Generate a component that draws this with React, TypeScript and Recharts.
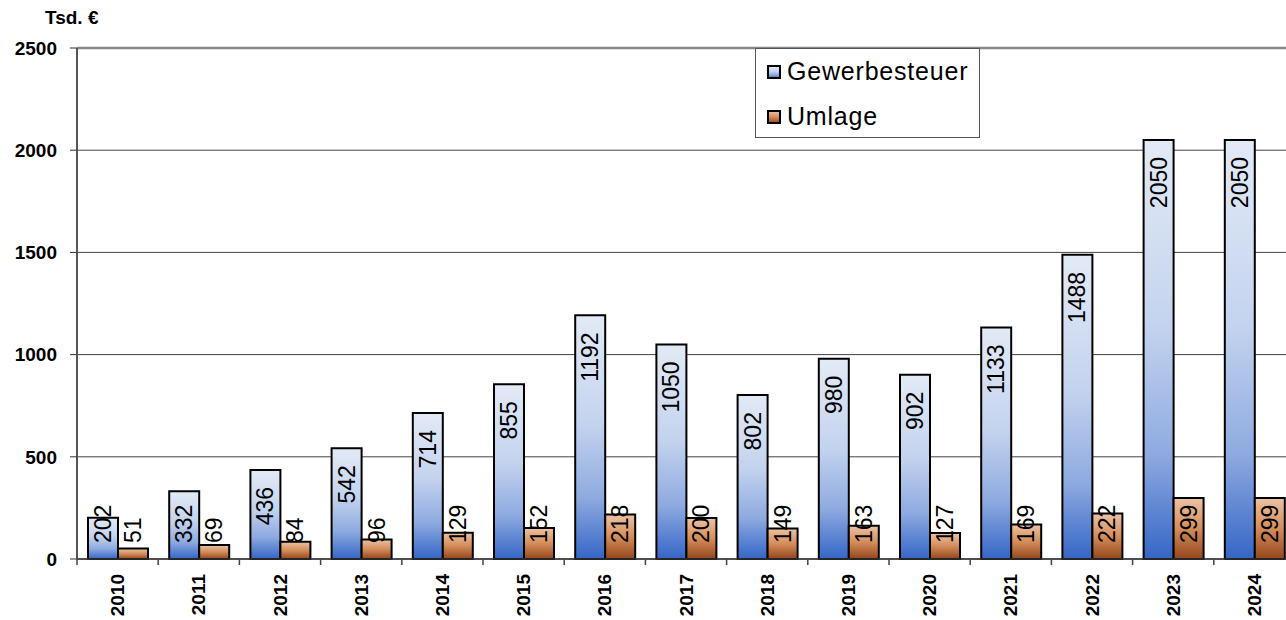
import React from "react";
import {
  BarChart,
  Bar,
  XAxis,
  YAxis,
  CartesianGrid,
  Legend,
  LabelList,
  ReferenceLine,
} from "recharts";

const years = ["2010", "2011", "2012", "2013", "2014", "2015", "2016", "2017", "2018", "2019", "2020", "2021", "2022", "2023", "2024"];
const gewerbesteuer = [202, 332, 436, 542, 714, 855, 1192, 1050, 802, 980, 902, 1133, 1488, 2050, 2050];
const umlage = [51, 69, 84, 96, 129, 152, 218, 200, 149, 163, 127, 169, 222, 299, 299];
const yTicks = [0, 500, 1000, 1500, 2000, 2500];

const data = years.map((y, i) => ({ year: y, g: gewerbesteuer[i], u: umlage[i] }));

const FONT = "'Liberation Sans', Arial, sans-serif";
const VIEW_W = 1286;
const W = 1295;
const H = 620;
const Y_AXIS_W = 77;
const CAT_W = (W - Y_AXIS_W) / years.length;

const LABEL_FS = 23;

const renderLabel = (props: any) => {
  const { x, y, width, height, value } = props;
  const bottom = y + height;
  const len = String(value).length * 0.556 * LABEL_FS;
  const top = Math.min(y + 17, bottom - 16 - len);
  const cx = x + width / 2;
  return (
    <text
      x={cx}
      y={top}
      transform={`rotate(-90 ${cx} ${top})`}
      textAnchor="end"
      dominantBaseline="central"
      fontFamily={FONT}
      fontSize={LABEL_FS}
      fill="#000"
    >
      {value}
    </text>
  );
};

const XTick = (props: any) => {
  const { x, y, payload, index } = props;
  const half = payload && payload.offset ? payload.offset : CAT_W / 2;
  return (
    <g>
      <line x1={x - half} y1={y} x2={x - half} y2={y + 6} stroke="#444" strokeWidth={1.5} />
      {index === years.length - 1 && (
        <line x1={x + half} y1={y} x2={x + half} y2={y + 6} stroke="#444" strokeWidth={1.5} />
      )}
      <text
        x={x}
        y={y + 15}
        transform={`rotate(-90 ${x} ${y + 15})`}
        textAnchor="end"
        dominantBaseline="central"
        fontFamily={FONT}
        fontWeight="bold"
        fontSize={19}
        fill="#000"
      >
        {payload.value}
      </text>
    </g>
  );
};

const LegendContent = (props: any) => {
  const { payload } = props;
  return (
    <div
      style={{
        width: 223,
        height: 88,
        border: "1px solid #555",
        background: "#fff",
        boxSizing: "content-box",
      }}
    >
      {(payload || []).map((p: any, i: number) => (
        <div
          key={i}
          style={{
            display: "flex",
            alignItems: "center",
            height: 45,
            paddingLeft: 11,
            fontFamily: FONT,
            fontSize: 25,
            letterSpacing: 0.8,
            color: "#000",
          }}
        >
          <svg width={14} height={14} style={{ marginRight: 6 }}>
            <rect x={1} y={1} width={12} height={12} fill={i === 0 ? "url(#gBlue)" : "url(#gOrange)"} stroke="#000" strokeWidth={2} />
          </svg>
          <span>{p.value}</span>
        </div>
      ))}
    </div>
  );
};

export default function App() {
  return (
    <div style={{ position: "absolute", left: 0, top: 0, width: VIEW_W, height: H, background: "#fff", overflow: "hidden" }}>
      <div
        style={{
          position: "absolute",
          left: 45,
          top: 7,
          fontFamily: FONT,
          fontWeight: "bold",
          fontSize: 19,
          color: "#000",
        }}
      >
        Tsd. €
      </div>
      <BarChart
        width={W}
        height={H}
        data={data}
        margin={{ top: 48, right: 0, bottom: 0, left: 0 }}
        barCategoryGap={11}
        barGap={0}
      >
        <defs>
          <linearGradient id="gBlue" x1="0" y1="0" x2="0" y2="1">
            <stop offset="0%" stopColor="#e3eaf6" />
            <stop offset="45%" stopColor="#c3d3ee" />
            <stop offset="75%" stopColor="#8eaae0" />
            <stop offset="100%" stopColor="#3566c6" />
          </linearGradient>
          <linearGradient id="gOrange" x1="0" y1="0" x2="0" y2="1">
            <stop offset="0%" stopColor="#ecc3a6" />
            <stop offset="50%" stopColor="#d48d5a" />
            <stop offset="100%" stopColor="#94461c" />
          </linearGradient>
        </defs>
        <CartesianGrid vertical={false} stroke="#444" strokeWidth={1} />
        <XAxis
          dataKey="year"
          height={61}
          interval={0}
          tickSize={0}
          tickMargin={0}
          tickLine={false}
          axisLine={{ stroke: "#333", strokeWidth: 1.5 }}
          tick={<XTick />}
        />
        <YAxis
          width={Y_AXIS_W}
          domain={[0, 2500]}
          ticks={yTicks}
          interval={0}
          tickSize={7}
          tickMargin={13}
          axisLine={{ stroke: "#555", strokeWidth: 2 }}
          tickLine={{ stroke: "#333" }}
          tick={{ fontFamily: FONT, fontWeight: "bold", fontSize: 19, fill: "#000" }}
        />
        <ReferenceLine y={2500} stroke="#888" strokeWidth={2.5} />
        <Legend
          layout="vertical"
          verticalAlign="middle"
          align="center"
          wrapperStyle={{ left: 755, top: 48, width: 225 }}
          content={<LegendContent />}
        />
        <Bar dataKey="g" name="Gewerbesteuer" fill="url(#gBlue)" stroke="#000" strokeWidth={2} isAnimationActive={false}>
          <LabelList dataKey="g" content={renderLabel} />
        </Bar>
        <Bar dataKey="u" name="Umlage" fill="url(#gOrange)" stroke="#000" strokeWidth={2} isAnimationActive={false}>
          <LabelList dataKey="u" content={renderLabel} />
        </Bar>
      </BarChart>
    </div>
  );
}
